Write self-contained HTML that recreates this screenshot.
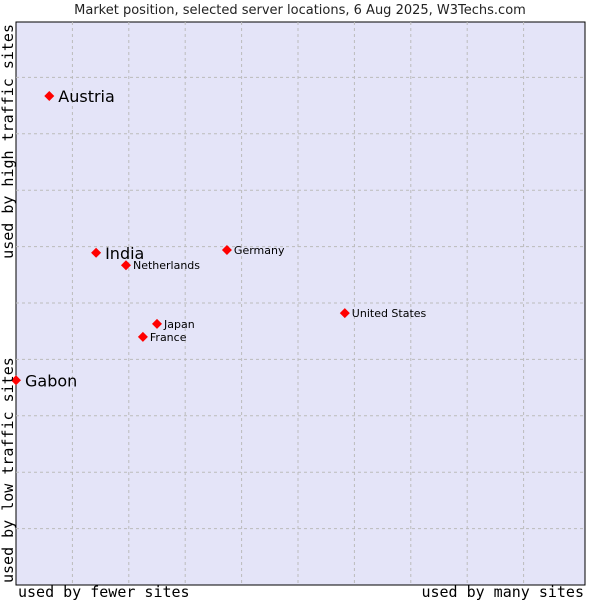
<!DOCTYPE html>
<html><head><meta charset="utf-8"><style>body{margin:0;background:#fff}svg{display:block}</style></head>
<body>
<svg width="600" height="600" xmlns="http://www.w3.org/2000/svg">
<text x="300" y="14" text-anchor="middle" font-family="DejaVu Sans, sans-serif" font-size="13" fill="#222">Market position, selected server locations, 6 Aug 2025, W3Techs.com</text>
<rect x="16" y="22" width="569" height="563" fill="#e4e4f8" stroke="#000" stroke-width="1"/>
<g id="grid"></g>
<g id="pts"></g>
<text x="18" y="597" font-family="DejaVu Sans Mono, monospace" font-size="15" fill="#000">used by fewer sites</text>
<text x="584" y="597" text-anchor="end" font-family="DejaVu Sans Mono, monospace" font-size="15" fill="#000">used by many sites</text>
<text transform="translate(13,24) rotate(-90)" text-anchor="end" font-family="DejaVu Sans Mono, monospace" font-size="15" fill="#000">used by high traffic sites</text>
<text transform="translate(13,583) rotate(-90)" text-anchor="start" font-family="DejaVu Sans Mono, monospace" font-size="15" fill="#000">used by low traffic sites</text>
<script>
const names=["Austria","India","Netherlands","Germany","United States","Japan","France","Gabon"];
const xVals=[0.59,1.42,1.95,3.74,5.83,2.50,2.25,0];
const yVals=[8.67,5.89,5.67,5.94,4.82,4.63,4.40,3.63];
const big=[true,true,false,false,false,false,false,true];
const NS="http://www.w3.org/2000/svg";
const X0=16,Y0=585,U=56.4;
const sx=v=>X0+v*U, sy=v=>Y0-v*U;
const g=document.getElementById('grid');
for(let i=1;i<10;i++){
 const v=document.createElementNS(NS,'line');
 v.setAttribute('x1',sx(i));v.setAttribute('x2',sx(i));v.setAttribute('y1',22);v.setAttribute('y2',585);
 v.setAttribute('stroke','#bbb');v.setAttribute('stroke-dasharray','3,3');
 
 
 g.appendChild(v);
 const h=document.createElementNS(NS,'line');
 h.setAttribute('y1',sy(i));h.setAttribute('y2',sy(i));h.setAttribute('x1',16);h.setAttribute('x2',585);
 h.setAttribute('stroke','#bbb');h.setAttribute('stroke-dasharray','3,3');
 
 
 g.appendChild(h);
}
const p=document.getElementById('pts');
names.forEach((n,i)=>{
 const x=sx(xVals[i]),y=sy(yVals[i]);
 const d=document.createElementNS(NS,'path');
 d.setAttribute('d',`M${x-5},${y}L${x},${y-5}L${x+5},${y}L${x},${y+5}Z`);
 d.setAttribute('fill','#f00');
 
 
 p.appendChild(d);
 const t=document.createElementNS(NS,'text');
 t.setAttribute('x',x+(big[i]?9:7));t.setAttribute('y',y+(big[i]?6:4));
 t.setAttribute('font-family','DejaVu Sans, sans-serif');
 t.setAttribute('font-size',big[i]?16:11);
 t.setAttribute('fill','#000');
 t.textContent=n;
 
 
 p.appendChild(t);
});
</script>
</svg>
</body></html>
